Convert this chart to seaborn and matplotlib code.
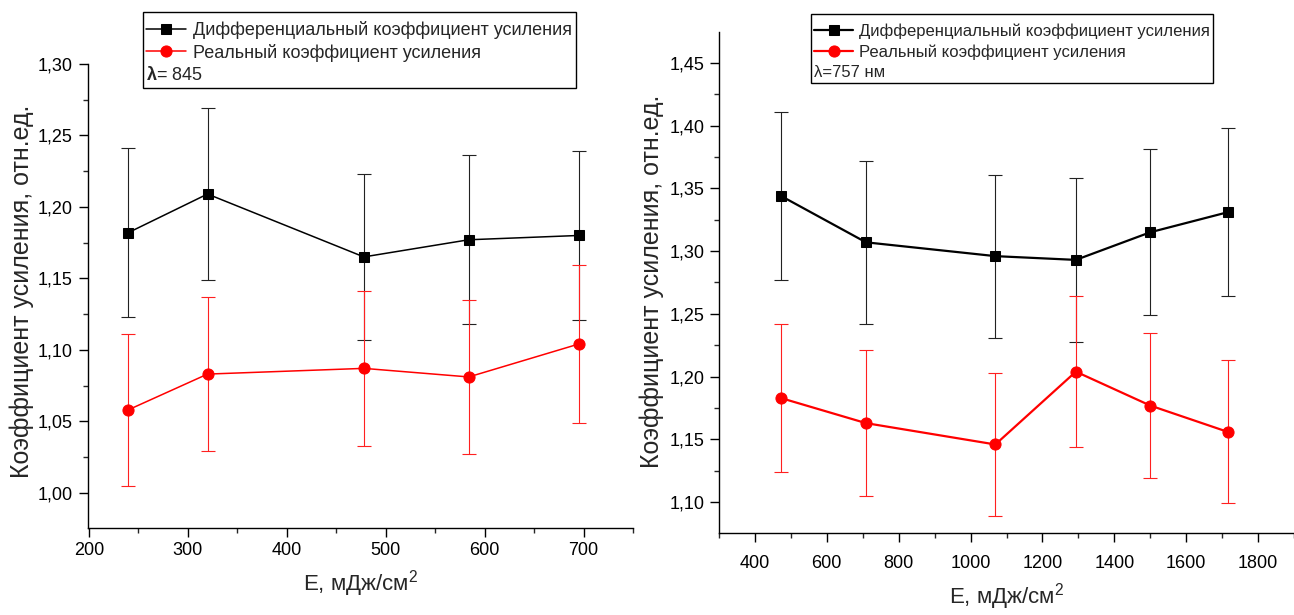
import matplotlib
matplotlib.use("Agg")
import matplotlib.pyplot as plt
import seaborn as sns
from matplotlib.ticker import MultipleLocator, FuncFormatter
from matplotlib.lines import Line2D

# ---------------- data ----------------
left_x = [240, 320, 478, 584, 695]
left_diff = [1.182, 1.209, 1.165, 1.177, 1.180]
left_diff_err = [0.059, 0.060, 0.058, 0.059, 0.059]
left_real = [1.058, 1.083, 1.087, 1.081, 1.104]
left_real_err = [0.053, 0.054, 0.054, 0.054, 0.055]

right_x = [472, 709, 1069, 1293, 1500, 1716]
right_diff = [1.344, 1.307, 1.296, 1.293, 1.315, 1.331]
right_diff_err = [0.067, 0.065, 0.065, 0.065, 0.066, 0.067]
right_real = [1.183, 1.163, 1.146, 1.204, 1.177, 1.156]
right_real_err = [0.059, 0.058, 0.057, 0.060, 0.058, 0.057]

series_labels = ["Дифференциальный коэффициент усиления",
                 "Реальный коэффициент усиления"]
left_note = r"$\mathbf{\lambda}$= 845"
right_note = "λ=757 нм"
y_label = "Коэффициент усиления, отн.ед."
x_label = "E, мДж/см$^{2}$"

# ---------------- style ----------------
sns.set_style("ticks")
plt.rcParams['font.family'] = ['Liberation Sans', 'DejaVu Sans']
plt.rcParams['mathtext.fontset'] = 'custom'
plt.rcParams['mathtext.rm'] = 'Liberation Sans'
plt.rcParams['mathtext.it'] = 'Liberation Sans:italic'
plt.rcParams['mathtext.bf'] = 'Liberation Sans:bold'
plt.rcParams['axes.linewidth'] = 1.0
plt.rcParams['axes.edgecolor'] = 'black'

W, H = 1294, 615
fig = plt.figure(figsize=(W / 100, H / 100), dpi=100)

def fpos(x0, y0, x1, y1):
    return [x0 / W, 1 - y1 / H, (x1 - x0) / W, (y1 - y0) / H]

axL = fig.add_axes(fpos(87.5, 64, 633, 527.7))
axR = fig.add_axes(fpos(719, 32, 1294, 533))

comma = FuncFormatter(lambda v, p: f"{v:.2f}".replace('.', ','))


def panel(ax, x, d, de, r, re, lw, ms_s, ms_c):
    ax.errorbar(x, d, yerr=de, fmt='none', ecolor='#222222', elinewidth=0.8,
                capsize=5, capthick=0.8, zorder=2)
    ax.errorbar(x, r, yerr=re, fmt='none', ecolor='#ff2020', elinewidth=0.8,
                capsize=5, capthick=0.8, zorder=2)
    sns.lineplot(x=x, y=d, ax=ax, color='black', marker='s', markersize=ms_s,
                 markeredgecolor='black', linewidth=lw, label=series_labels[0],
                 sort=False, zorder=3)
    sns.lineplot(x=x, y=r, ax=ax, color='red', marker='o', markersize=ms_c,
                 markeredgecolor='red', linewidth=lw, label=series_labels[1],
                 sort=False, zorder=3)
    sns.despine(ax=ax)
    ax.yaxis.set_major_formatter(comma)
    ax.tick_params(which='major', direction='out', length=6.5, width=1,
                   labelsize=13, pad=4, colors='black')
    ax.tick_params(which='minor', direction='out', length=3.5, width=1)
    ax.set_ylabel(y_label, fontsize=18)


panel(axL, left_x, left_diff, left_diff_err, left_real, left_real_err, 1.1, 7.5, 8)
panel(axR, right_x, right_diff, right_diff_err, right_real, right_real_err, 1.6, 7.5, 8)

axL.set_xlabel(x_label, fontsize=16, labelpad=6)
axR.set_xlabel(x_label, fontsize=16, labelpad=7)
axR.tick_params(axis='x', which='major', pad=9)

axL.set_xlim(198.7, 750)
axL.set_ylim(0.9755, 1.30)
axL.xaxis.set_major_locator(MultipleLocator(100))
axL.xaxis.set_minor_locator(MultipleLocator(50))
axL.yaxis.set_major_locator(MultipleLocator(0.05))
axL.yaxis.set_minor_locator(MultipleLocator(0.025))

axR.set_xlim(300, 1900)
axR.set_ylim(1.0755, 1.4745)
axR.xaxis.set_major_locator(MultipleLocator(200))
axR.xaxis.set_minor_locator(MultipleLocator(100))
axR.yaxis.set_major_locator(MultipleLocator(0.05))
axR.yaxis.set_minor_locator(MultipleLocator(0.025))


def add_legend(ax, note, x0, y0, fs, hl, htp, ls):
    handles, labels = ax.get_legend_handles_labels()
    if ax.get_legend() is not None:
        ax.get_legend().remove()
    handles = handles + [Line2D([], [], linestyle='none')]
    labels = labels + [note]
    # a tiny blank title only adds some room above the first row
    leg = ax.legend(handles, labels, loc='upper left',
                    bbox_to_anchor=(x0 / W, 1 - y0 / H),
                    bbox_transform=fig.transFigure, frameon=True,
                    fancybox=False, edgecolor='black', framealpha=1,
                    borderpad=0.2, borderaxespad=0, handlelength=hl,
                    handletextpad=htp, labelspacing=ls, fontsize=fs,
                    title=" ", title_fontsize=1)
    leg.get_frame().set_linewidth(1.0)
    leg.get_texts()[2].set_position((-(hl + htp) * fs * 100 / 72, 0))
    return leg


add_legend(axL, left_note, 142.7, 12, 13, 2.2, 0.4, 0.25)
add_legend(axR, right_note, 811, 14, 12, 2.3, 0.38, 0.31)

axL.yaxis.set_label_coords(-0.098, 0.51)
axR.yaxis.set_label_coords(-0.0957, 0.503)

fig.savefig("out.png", dpi=100)
